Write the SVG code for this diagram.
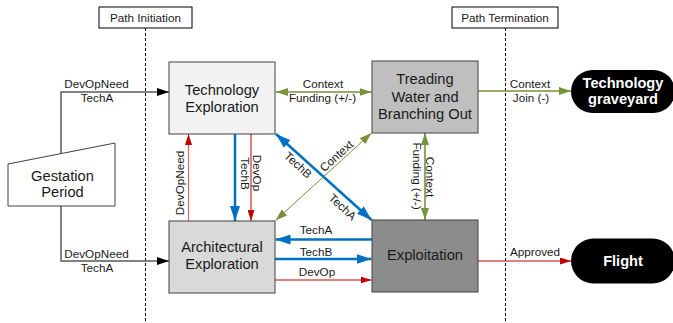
<svg xmlns="http://www.w3.org/2000/svg" width="673" height="323" viewBox="0 0 673 323">
<style>
text{font-family:"Liberation Sans",Arial,sans-serif;fill:#1a1a1a}
.lbl{font-size:11.7px;text-anchor:middle}
.node{font-size:14.7px;text-anchor:middle}
.pill{font-size:14.6px;font-weight:bold;fill:#fff;text-anchor:middle}
.box{stroke:#404040;stroke-width:1}
.blue{stroke:#0070c0;stroke-width:2.5;fill:none}
.red{stroke:#c00000;stroke-width:1;fill:none}
.green{stroke:#76923c;stroke-width:1.6;fill:none}
.gray{stroke:#595959;stroke-width:1.5;fill:none}
.dash{stroke:#000;stroke-width:1;stroke-dasharray:3,2;fill:none}
</style>
<defs>
<marker id="mb" markerUnits="userSpaceOnUse" markerWidth="15" markerHeight="10" refX="15" refY="5" orient="auto-start-reverse"><path d="M0,0 L15,5 L0,10 z" fill="#0070c0"/></marker>
<marker id="mr" markerUnits="userSpaceOnUse" markerWidth="11" markerHeight="7" refX="11" refY="3.5" orient="auto-start-reverse"><path d="M0,0 L11,3.5 L0,7 z" fill="#c00000"/></marker>
<marker id="mg" markerUnits="userSpaceOnUse" markerWidth="12" markerHeight="8" refX="12" refY="4" orient="auto-start-reverse"><path d="M0,0 L12,4 L0,8 z" fill="#76923c"/></marker>
<marker id="mk" markerUnits="userSpaceOnUse" markerWidth="12" markerHeight="8" refX="12" refY="4" orient="auto-start-reverse"><path d="M0,0 L12,4 L0,8 z" fill="#000"/></marker>
</defs>
<rect width="673" height="323" fill="#fff"/>

<g id="lanes">
<line class="dash" x1="145.5" y1="28" x2="145.5" y2="323"/>
<line class="dash" x1="505.5" y1="28" x2="505.5" y2="323"/>
<g id="path-initiation"><rect x="99" y="7" width="93" height="21" fill="#fff" stroke="#000" stroke-width="1"/><text class="lbl" x="145.5" y="21.5">Path Initiation</text></g>
<g id="path-termination"><rect x="452" y="7" width="106" height="21" fill="#fff" stroke="#000" stroke-width="1"/><text class="lbl" x="505" y="21.5">Path Termination</text></g>
</g>

<g id="connectors">
<polyline class="gray" points="61,153.6 61,92 169,92" marker-end="url(#mk)"/>
<text class="lbl" x="96.5" y="88">DevOpNeed</text>
<text class="lbl" x="97" y="102">TechA</text>
<polyline class="gray" points="61,206 61,261 169,261" marker-end="url(#mk)"/>
<text class="lbl" x="96.5" y="257.5">DevOpNeed</text>
<text class="lbl" x="97" y="271.5">TechA</text>

<line class="green" x1="276" y1="92" x2="371.5" y2="92" marker-start="url(#mg)" marker-end="url(#mg)"/>
<text class="lbl" x="323" y="88">Context</text>
<text class="lbl" x="322.5" y="102">Funding (+/-)</text>

<line class="green" x1="478" y1="91" x2="571" y2="91" marker-end="url(#mg)"/>
<text class="lbl" x="530" y="88">Context</text>
<text class="lbl" x="531" y="102">Join (-)</text>

<line class="red" x1="478" y1="261" x2="571" y2="261" marker-end="url(#mr)"/>
<text class="lbl" x="535" y="255.5">Approved</text>

<line x1="188.5" y1="221" x2="188.5" y2="134" stroke="#e06666" stroke-width="1.2" marker-end="url(#mr)"/>
<text class="lbl" transform="translate(183.5,183) rotate(-90)">DevOpNeed</text>
<line class="blue" x1="235" y1="134" x2="235" y2="221" marker-end="url(#mb)"/>
<line class="red" x1="251" y1="134" x2="251" y2="221" marker-end="url(#mr)"/>
<text class="lbl" transform="translate(253,173) rotate(90)">DevOp</text>
<text class="lbl" transform="translate(241,173.5) rotate(90)">TechB</text>

<line class="blue" x1="276" y1="134" x2="371.5" y2="220" marker-start="url(#mb)" marker-end="url(#mb)"/>
<text class="lbl" transform="translate(298,165) rotate(42.5)" y="4">TechB</text>
<text class="lbl" transform="translate(342.5,207) rotate(42.5)" y="4">TechA</text>

<line x1="371.5" y1="133" x2="275.5" y2="220.5" stroke="#76923c" stroke-width="1" marker-start="url(#mg)" marker-end="url(#mg)"/>
<text class="lbl" transform="translate(336.5,156) rotate(-42)" y="4">Context</text>

<line class="green" x1="425" y1="133" x2="425" y2="220" marker-start="url(#mg)" marker-end="url(#mg)"/>
<text class="lbl" transform="translate(426,177) rotate(90)">Context</text>
<text class="lbl" transform="translate(412.5,176) rotate(90)">Funding (+/-)</text>

<line class="blue" x1="372" y1="239.5" x2="275.5" y2="239.5" marker-end="url(#mb)"/>
<text class="lbl" x="316" y="234">TechA</text>
<line class="blue" x1="275" y1="259" x2="371.5" y2="259" marker-end="url(#mb)"/>
<text class="lbl" x="316" y="255.5">TechB</text>
<line class="red" x1="275" y1="280" x2="371.5" y2="280" marker-end="url(#mr)"/>
<text class="lbl" x="317" y="276">DevOp</text>
</g>

<g id="gestation">
<polygon class="box" points="8,164 115,143 115,206 8,206" fill="#fff"/>
<text class="node" x="62.5" y="180.7">Gestation</text>
<text class="node" x="62.5" y="197.3">Period</text>
</g>

<g id="tech-exploration">
<rect class="box" x="169" y="62" width="106" height="72" fill="#f2f2f2"/>
<text class="node" x="222" y="94.5">Technology</text>
<text class="node" x="222" y="111.7">Exploration</text>
</g>

<g id="treading-water">
<rect class="box" x="372" y="61" width="106" height="72" fill="#bfbfbf"/>
<text class="node" x="425" y="84">Treading</text>
<text class="node" x="425" y="101.7">Water and</text>
<text class="node" x="425" y="119">Branching Out</text>
</g>

<g id="arch-exploration">
<rect class="box" x="169" y="221" width="106" height="72" fill="#d9d9d9"/>
<text class="node" x="222" y="251.7">Architectural</text>
<text class="node" x="222" y="269">Exploration</text>
</g>

<g id="exploitation">
<rect class="box" x="372" y="220" width="106" height="72" fill="#8c8c8c"/>
<text class="node" x="425" y="260">Exploitation</text>
</g>

<g id="graveyard">
<rect x="571" y="70" width="104" height="43" rx="21.5" fill="#000"/>
<text class="pill" x="623" y="88">Technology</text>
<text class="pill" x="623" y="103.5">graveyard</text>
</g>

<g id="flight">
<rect x="571" y="238.5" width="104" height="45" rx="22.5" fill="#000"/>
<text class="pill" x="623" y="265.5">Flight</text>
</g>
</svg>
